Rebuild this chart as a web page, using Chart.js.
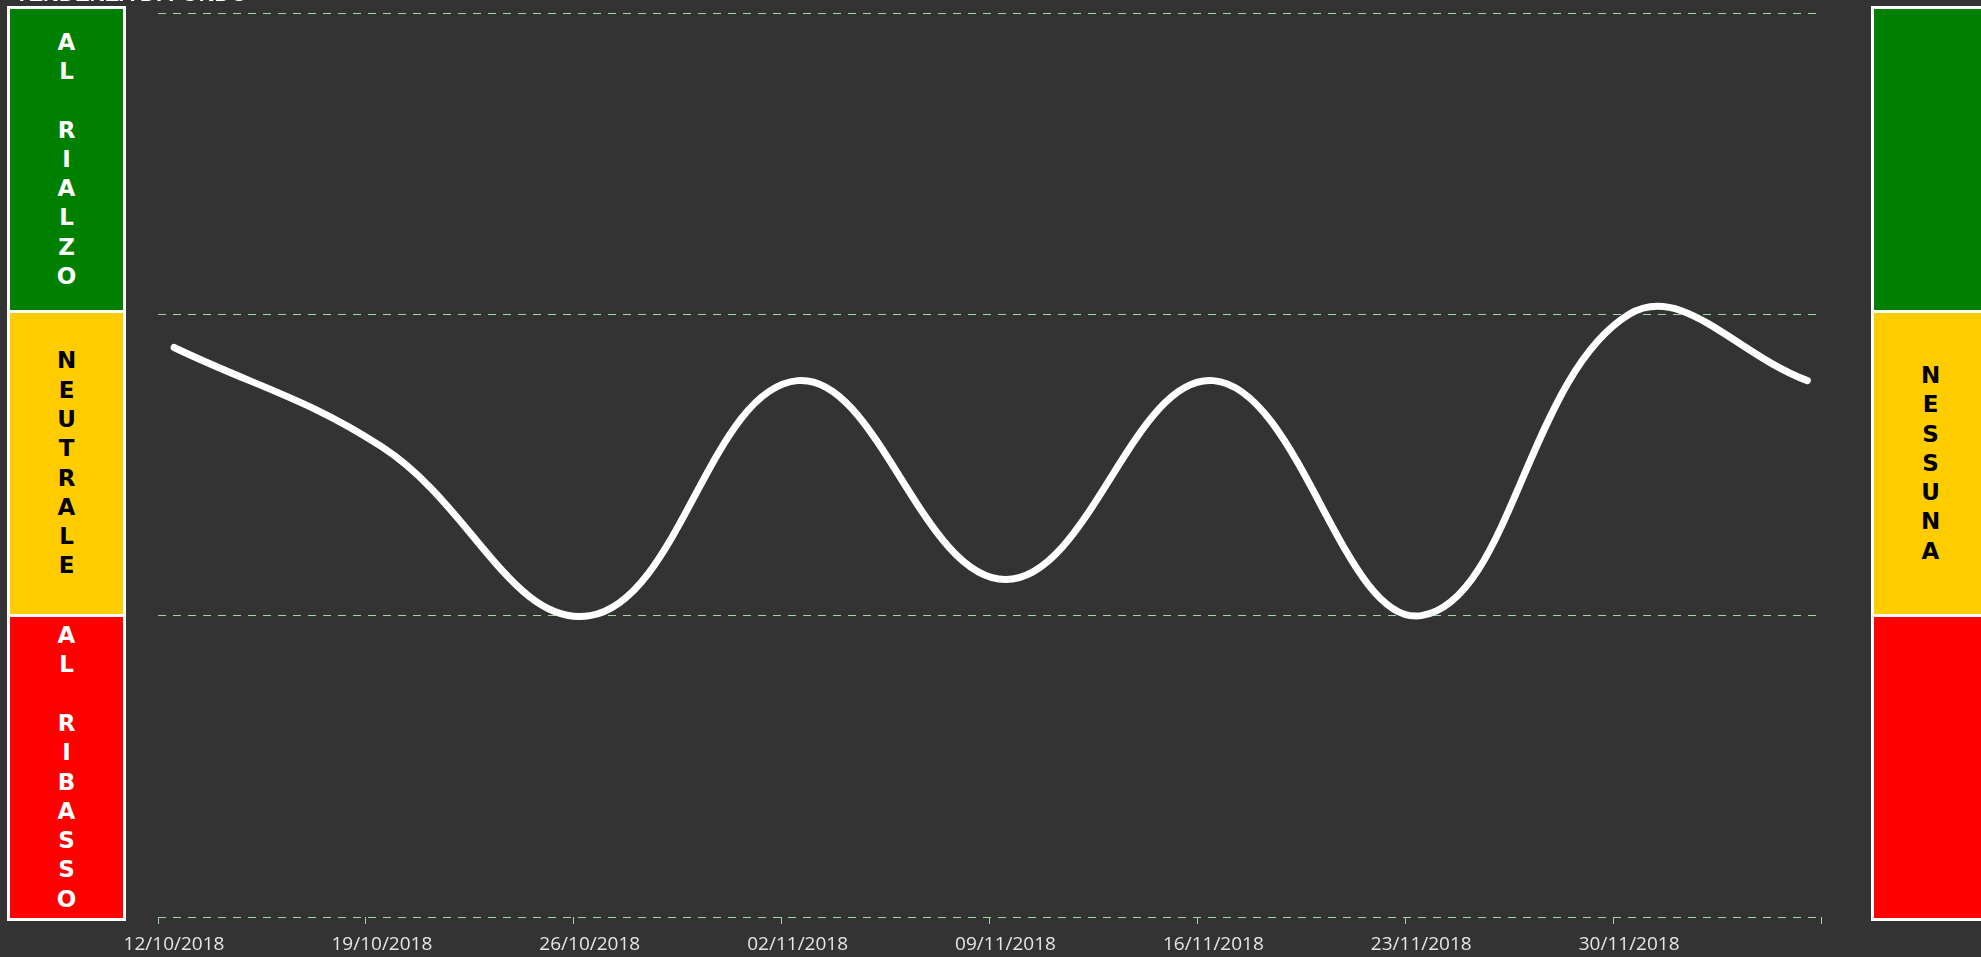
<!DOCTYPE html>
<html>
<head>
<meta charset="utf-8">
<script src="https://cdn.jsdelivr.net/npm/chart.js@4/dist/chart.umd.min.js"></script>
<style>
  html, body { margin:0; padding:0; background:#333333; overflow:hidden; }
  #wrap { position:relative; width:1981px; height:957px; }
  canvas { position:absolute; left:0; top:0; }
  .panel { position:absolute; top:6px; width:113px; height:909px; background:#ffffff; padding:3px; }
  .seg { position:absolute; left:3px; width:113px; display:flex; flex-direction:column; align-items:center; justify-content:center;
         font-family:"DejaVu Sans", sans-serif; font-weight:bold; font-size:23px; line-height:29.3px; }
  .seg span { display:block; height:29.3px; }
  .title { position:absolute; left:15px; top:-19px; font-family:"Liberation Sans", Arial, sans-serif; font-weight:bold; font-size:22px; color:#ffffff; white-space:nowrap; }
</style>
</head>
<body>
<div id="wrap">
  <canvas id="c" width="1981" height="957"></canvas>
  <div class="title">TENDENZA DI FONDO</div>
  <div class="panel" id="leftPanel" style="left:7px;"></div>
  <div class="panel" id="rightPanel" style="left:1871px;"></div>
</div>
<script>
// ---- data ----
const axisStart = '2018-10-12T00:00';
const pointDates = ['2018-10-12T13:00','2018-10-19T13:00','2018-10-26T13:00','2018-11-02T13:00','2018-11-09T13:00',
                    '2018-11-16T13:00','2018-11-23T13:00','2018-11-30T13:00','2018-12-06T13:00'];
const trendValues = [1.89, 1.56, 1.0, 1.78, 1.12, 1.78, 1.0, 2.0, 1.78];
const tickLabels = ['12/10/2018','19/10/2018','26/10/2018','02/11/2018','09/11/2018','16/11/2018','23/11/2018','30/11/2018'];
const leftBands = ['AL RIALZO', 'NEUTRALE', 'AL RIBASSO'];
const rightBands = ['', 'NESSUNA', ''];
const bandColors = ['#008000', '#FFCC00', '#FF0000'];
const leftTextColors = ['#ffffff', '#000000', '#ffffff'];
const rightTextColors = ['#000000', '#000000', '#000000'];

// ---- side panels ----
function buildPanel(el, texts, textColors) {
  const tops = [3, 307, 611];
  const heights = [301, 301, 301];
  texts.forEach((t, i) => {
    const d = document.createElement('div');
    d.className = 'seg';
    d.style.top = tops[i] + 'px';
    d.style.height = heights[i] + 'px';
    d.style.background = bandColors[i];
    d.style.color = textColors[i];
    for (const ch of t) {
      const s = document.createElement('span');
      s.textContent = ch === ' ' ? '\u00a0' : ch;
      d.appendChild(s);
    }
    el.appendChild(d);
  });
}
buildPanel(document.getElementById('leftPanel'), leftBands, leftTextColors);
buildPanel(document.getElementById('rightPanel'), rightBands, rightTextColors);

// ---- chart ----
const DAY = 86400000;
const t0 = Date.parse(axisStart);
const points = pointDates.map((d, i) => ({ x: (Date.parse(d) - t0) / DAY, y: trendValues[i] }));
const gridColor = 'rgb(160,212,160)';

new Chart(document.getElementById('c'), {
  type: 'line',
  data: {
    datasets: [{
      data: points,
      borderColor: '#ffffff',
      borderWidth: 7,
      borderCapStyle: 'round',
      borderJoinStyle: 'round',
      pointRadius: 0,
      tension: 0.4,
      fill: false
    }]
  },
  options: {
    responsive: false,
    animation: false,
    layout: { padding: { left: 158, right: 160, top: 13, bottom: 0 } },
    plugins: { legend: { display: false }, tooltip: { enabled: false } },
    scales: {
      x: {
        type: 'linear',
        min: 0,
        max: 56,
        afterFit: (s) => { s.height = 40; },
        border: { display: false },
        grid: {
          drawOnChartArea: false,
          drawTicks: true,
          tickLength: 7,
          tickColor: gridColor,
          tickWidth: 1,
          tickBorderDash: []
        },
        ticks: {
          stepSize: 7,
          autoSkip: false,
          maxRotation: 0,
          labelOffset: 16,
          padding: 9,
          color: '#e6e6e6',
          font: { family: '"Open Sans", sans-serif', size: 19 },
          callback: (v, i) => tickLabels[i] ?? ''
        }
      },
      y: {
        min: 0,
        max: 3,
        afterFit: (s) => { s.width = 0; },
        border: { display: false, dash: [8, 7] },
        grid: {
          color: gridColor,
          lineWidth: 1,
          drawTicks: false
        },
        ticks: { display: false, stepSize: 1 }
      }
    }
  }
});
</script>
</body>
</html>
